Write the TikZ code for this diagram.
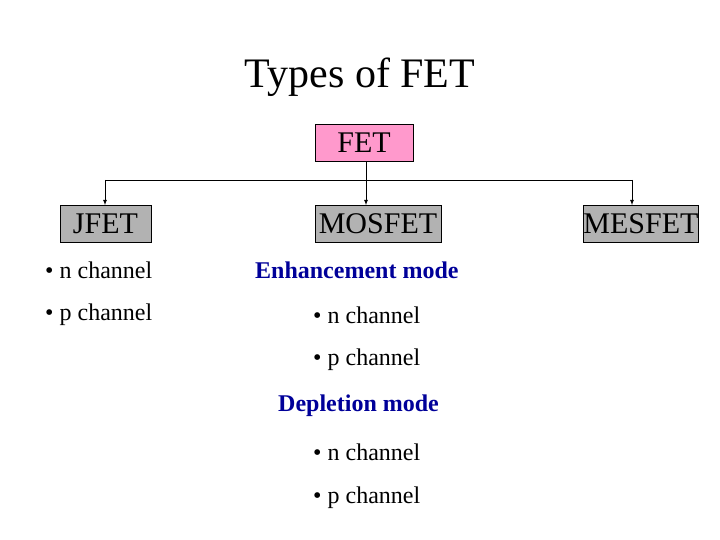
\documentclass[tikz,border=0pt]{standalone}
\usepackage{fontspec}
\setmainfont{Liberation Serif}
\usetikzlibrary{positioning}
\definecolor{fetpink}{RGB}{255,153,204}
\definecolor{boxgray}{RGB}{178,178,178}
\definecolor{modeblue}{RGB}{0,0,153}

\begin{document}
\begin{tikzpicture}[x=1pt, y=-1pt,
    box/.style={draw, thick, fill=boxgray, inner sep=0pt, minimum height=37pt, font=\fontsize{30}{30}\selectfont},
    item/.style={anchor=west, inner sep=0pt, font=\fontsize{24}{24}\selectfont},
    mode/.style={item, text=modeblue, font=\fontsize{24}{24}\selectfont\bfseries},
    link/.style={thick, -latex}]

\useasboundingbox (0,0) rectangle (720,540);

\node[font=\fontsize{42}{42}\selectfont] (title) at (360,77) {Types of FET};

\node[box, fill=fetpink, minimum width=98pt] (fet) at (364,143) {FET};
\node[box, minimum width=91pt] (jfet) at (105.5,224) {JFET};
\node[box, minimum width=126pt] (mosfet) at (378,224) {MOSFET};
\node[box, minimum width=114pt] (mesfet) at (641,224) {MESFET};

\coordinate (split) at (366,180);
\coordinate (left) at (105,180);
\coordinate (right) at (632,180);

\draw[thick] (left) -- (right);
\draw[link] (fet.south -| split) -- (mosfet.north -| split);
\draw[link] (left) -- (jfet.north -| left);
\draw[link] (right) -- (mesfet.north -| right);

% JFET column
\node[item] (j1) at (45,270) {\textbullet\ n channel};
\node[item] (j2) at (45,315) {\textbullet\ p channel};

% MOSFET column
\node[mode] (enh) at (255,270) {Enhancement mode};
\node[item] (e1) at (313,315) {\textbullet\ n channel};
\node[item] (e2) at (313,360) {\textbullet\ p channel};
\node[mode] (dep) at (278,406) {Depletion mode};
\node[item] (d1) at (313,452) {\textbullet\ n channel};
\node[item] (d2) at (313,498) {\textbullet\ p channel};

\end{tikzpicture}
\end{document}
